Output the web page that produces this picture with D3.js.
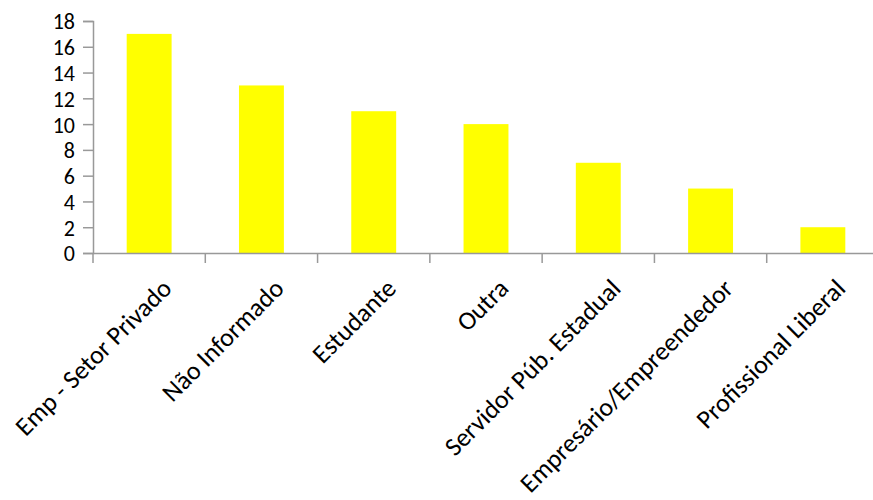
<!DOCTYPE html>
<html>
<head>
<meta charset="utf-8">
<style>
body { margin: 0; background: #fff; }
svg text { font-family: Calibri, Carlito, Lato, sans-serif; fill: #000; }
.axis path, .axis line { stroke: #999; stroke-width: 1.5; }
</style>
</head>
<body>
<svg id="chart" width="873" height="500"></svg>
<script src="https://d3js.org/d3.v7.min.js"></script>
<script>
var categorias = ["Emp - Setor Privado", "Não Informado", "Estudante", "Outra",
                  "Servidor Púb. Estadual", "Empresário/Empreendedor", "Profissional Liberal"];
var valores = [17, 13, 11, 10, 7, 5, 2];
var yTicks = [0, 2, 4, 6, 8, 10, 12, 14, 16, 18];

var margin = {top: 21, left: 93};
var width = 786, height = 232;

var svg = d3.select("#chart");
var g = svg.append("g").attr("transform", "translate(" + margin.left + "," + margin.top + ")");

var x = d3.scaleBand().domain(categorias).range([0, width]).padding(0);
var y = d3.scaleLinear().domain([0, 18]).range([height, 0]);
var bw = x.bandwidth();

g.selectAll(".bar")
  .data(valores)
  .enter().append("rect")
    .attr("class", "bar")
    .attr("x", function(d, i) { return x(categorias[i]) + bw * 0.3; })
    .attr("width", bw * 0.4)
    .attr("y", function(d) { return y(d); })
    .attr("height", function(d) { return height - y(d); })
    .attr("fill", "#ffff00");

// y axis
var yAxis = g.append("g").attr("class", "axis")
  .call(d3.axisLeft(y).tickValues(yTicks).tickSize(10).tickPadding(8));
yAxis.selectAll("text").style("font-size", "22px").attr("dy", "0.36em");

// x axis, ticks on band edges
var xAxis = g.append("g").attr("class", "axis")
  .attr("transform", "translate(0," + height + ")")
  .call(d3.axisBottom(x).tickSize(10).tickSizeOuter(0).tickFormat(""));
xAxis.selectAll(".tick line").attr("transform", "translate(" + (-bw / 2) + ",0)");

g.selectAll(".xlab")
  .data(categorias)
  .enter().append("text")
    .attr("class", "xlab")
    .attr("text-anchor", "end")
    .style("font-size", "26px")
    .attr("transform", function(d) {
      return "translate(" + (x(d) + bw / 2 + 24) + "," + (height + 37) + ") rotate(-45)";
    })
    .text(function(d) { return d; });
</script>
</body>
</html>
